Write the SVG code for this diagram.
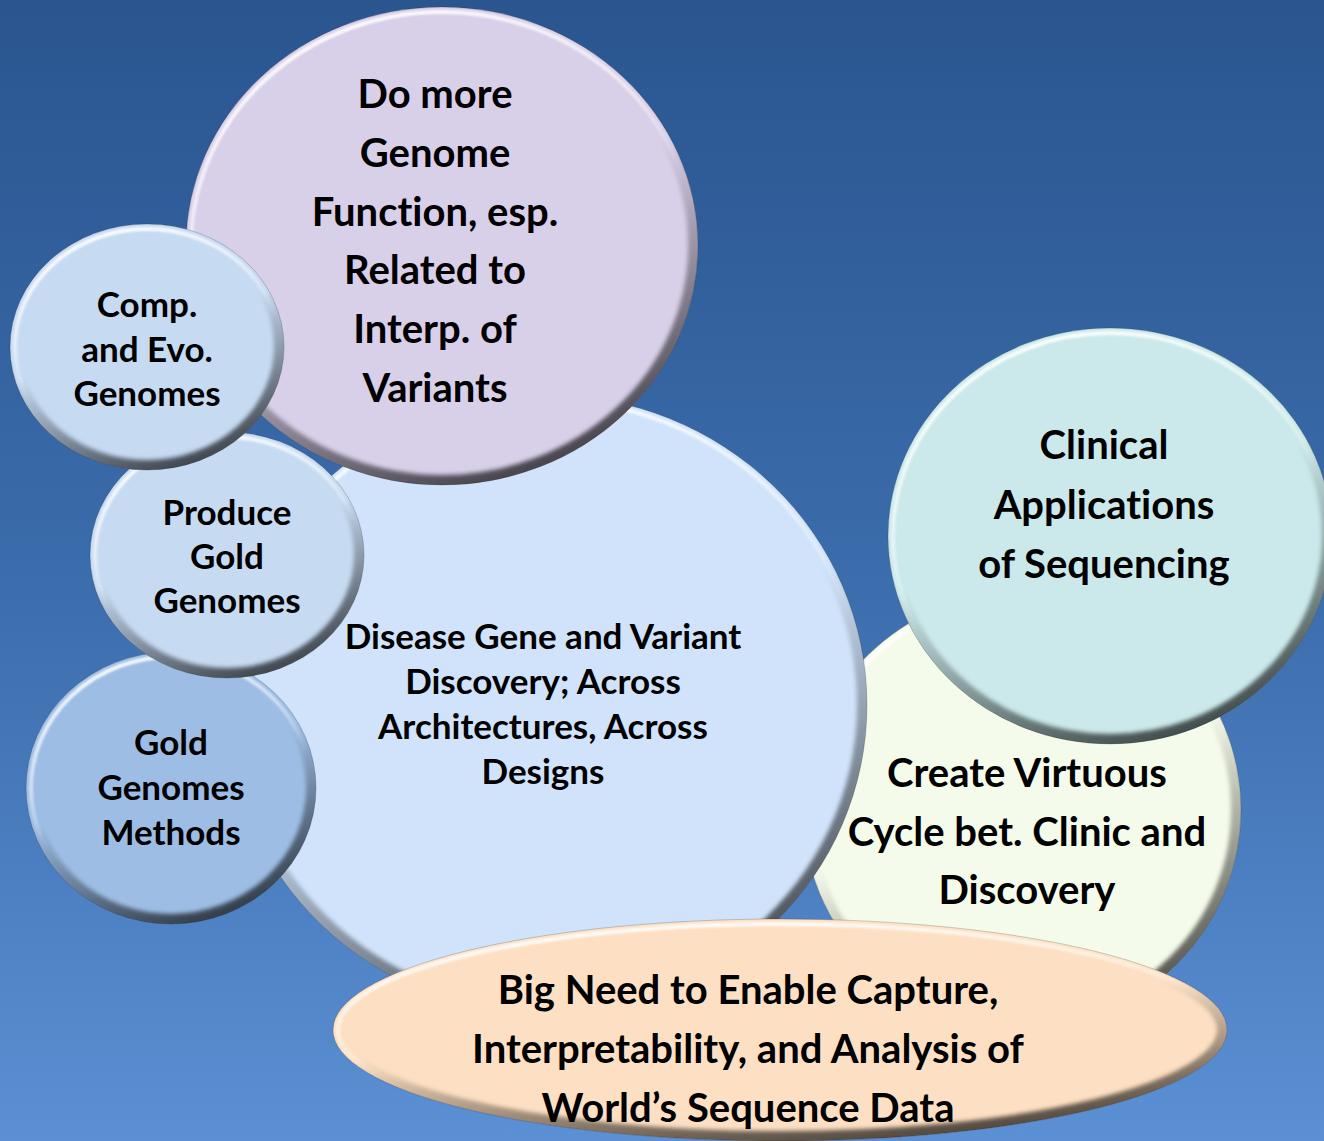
<svg xmlns="http://www.w3.org/2000/svg" width="1324" height="1141" viewBox="0 0 1324 1141">
  <defs>
    <linearGradient id="bg" x1="0" y1="0" x2="0" y2="1">
      <stop offset="0" stop-color="#2a558f"/>
      <stop offset="0.5" stop-color="#3b6cab"/>
      <stop offset="1" stop-color="#5b90d4"/>
    </linearGradient>
    <!-- bevel: light rim top-left, dark rim bottom-right -->
    <linearGradient id="gHi" x1="0.3" y1="0" x2="0.7" y2="1">
      <stop offset="0" stop-color="#fff" stop-opacity="0.95"/>
      <stop offset="0.35" stop-color="#fff" stop-opacity="0.5"/>
      <stop offset="0.55" stop-color="#fff" stop-opacity="0"/>
    </linearGradient>
    <linearGradient id="gShade" x1="0.3" y1="0" x2="0.7" y2="1">
      <stop offset="0.45" stop-color="#000" stop-opacity="0"/>
      <stop offset="0.8" stop-color="#000" stop-opacity="0.45"/>
      <stop offset="1" stop-color="#000" stop-opacity="0.7"/>
    </linearGradient>
    <filter id="soft" x="-10%" y="-10%" width="120%" height="120%">
      <feGaussianBlur stdDeviation="2"/>
    </filter>
    <filter id="softer" x="-10%" y="-10%" width="120%" height="120%">
      <feGaussianBlur stdDeviation="0.8"/>
    </filter>
    <clipPath id="c-create"><ellipse cx="1022" cy="810" rx="219" ry="218"/></clipPath>
    <clipPath id="c-clinical"><ellipse cx="1110" cy="536" rx="222" ry="208"/></clipPath>
    <clipPath id="c-disease"><ellipse cx="547" cy="705" rx="320" ry="310"/></clipPath>
    <clipPath id="c-function"><ellipse cx="442" cy="246" rx="256" ry="239"/></clipPath>
    <clipPath id="c-methods"><ellipse cx="171" cy="788" rx="145" ry="136"/></clipPath>
    <clipPath id="c-produce"><ellipse cx="227" cy="555" rx="137" ry="123"/></clipPath>
    <clipPath id="c-comp"><ellipse cx="147" cy="347" rx="137" ry="123"/></clipPath>
    <clipPath id="c-need"><ellipse cx="780" cy="1030" rx="447" ry="111"/></clipPath>
  </defs>
  <style>
    .shade { fill: none; stroke: url(#gShade); stroke-width: 14; filter: url(#soft); }
    .hi { fill: none; stroke: url(#gHi); stroke-width: 4; filter: url(#softer); }
    .rim { fill: none; stroke: #000; stroke-opacity: 0.18; stroke-width: 1; }
    .t { font-family: Lato, "Liberation Sans", sans-serif; font-weight: 700; fill: #000; text-anchor: middle; font-variant-ligatures: none; }
    .lg { font-size: 40px; }
    .sm { font-size: 35px; }
  </style>

  <rect width="1324" height="1141" fill="url(#bg)"/>

  <g id="n-create">
    <ellipse cx="1022" cy="810" rx="219" ry="218" fill="#f5fbea"/>
    <g clip-path="url(#c-create)">
      <ellipse class="shade" cx="1022" cy="810" rx="216" ry="215"/>
      <ellipse class="hi" cx="1022" cy="810" rx="214" ry="213"/>
    </g>
    <ellipse class="rim" cx="1022" cy="810" rx="219" ry="218"/>
    <text class="t lg" x="1027" y="787">Create Virtuous</text>
    <text class="t lg" x="1027" y="846">Cycle bet. Clinic and</text>
    <text class="t lg" x="1027" y="904">Discovery</text>
  </g>

  <g id="n-clinical">
    <ellipse cx="1110" cy="536" rx="222" ry="208" fill="#cbe9ea"/>
    <g clip-path="url(#c-clinical)">
      <ellipse class="shade" cx="1110" cy="536" rx="219" ry="205"/>
      <ellipse class="hi" cx="1110" cy="536" rx="217" ry="203"/>
    </g>
    <ellipse class="rim" cx="1110" cy="536" rx="222" ry="208"/>
    <text class="t lg" x="1104" y="459">Clinical</text>
    <text class="t lg" x="1104" y="519">Applications</text>
    <text class="t lg" x="1104" y="578">of Sequencing</text>
  </g>

  <g id="n-disease">
    <ellipse cx="547" cy="705" rx="320" ry="310" fill="#d0e3fa"/>
    <g clip-path="url(#c-disease)">
      <ellipse class="shade" cx="547" cy="705" rx="317" ry="307"/>
      <ellipse class="hi" cx="547" cy="705" rx="315" ry="305"/>
    </g>
    <ellipse class="rim" cx="547" cy="705" rx="320" ry="310"/>
    <text class="t sm" x="543" y="649">Disease Gene and Variant</text>
    <text class="t sm" x="543" y="694">Discovery; Across</text>
    <text class="t sm" x="543" y="739">Architectures, Across</text>
    <text class="t sm" x="543" y="784">Designs</text>
  </g>

  <g id="n-function">
    <ellipse cx="442" cy="246" rx="256" ry="239" fill="#d8cfe8"/>
    <g clip-path="url(#c-function)">
      <ellipse class="shade" cx="442" cy="246" rx="253" ry="236"/>
      <ellipse class="hi" cx="442" cy="246" rx="251" ry="234"/>
    </g>
    <ellipse class="rim" cx="442" cy="246" rx="256" ry="239"/>
    <text class="t lg" x="435" y="108">Do more</text>
    <text class="t lg" x="435" y="167">Genome</text>
    <text class="t lg" x="435" y="226">Function, esp.</text>
    <text class="t lg" x="435" y="284">Related to</text>
    <text class="t lg" x="435" y="343">Interp. of</text>
    <text class="t lg" x="435" y="402">Variants</text>
  </g>

  <g id="n-methods">
    <ellipse cx="171" cy="788" rx="145" ry="136" fill="#9dbde4"/>
    <g clip-path="url(#c-methods)">
      <ellipse class="shade" cx="171" cy="788" rx="142" ry="133"/>
      <ellipse class="hi" cx="171" cy="788" rx="140" ry="131"/>
    </g>
    <ellipse class="rim" cx="171" cy="788" rx="145" ry="136"/>
    <text class="t sm" x="171" y="755">Gold</text>
    <text class="t sm" x="171" y="800">Genomes</text>
    <text class="t sm" x="171" y="845">Methods</text>
  </g>

  <g id="n-produce">
    <ellipse cx="227" cy="555" rx="137" ry="123" fill="#c6daf1"/>
    <g clip-path="url(#c-produce)">
      <ellipse class="shade" cx="227" cy="555" rx="134" ry="120"/>
      <ellipse class="hi" cx="227" cy="555" rx="132" ry="118"/>
    </g>
    <ellipse class="rim" cx="227" cy="555" rx="137" ry="123"/>
    <text class="t sm" x="227" y="525">Produce</text>
    <text class="t sm" x="227" y="569">Gold</text>
    <text class="t sm" x="227" y="613">Genomes</text>
  </g>

  <g id="n-comp">
    <ellipse cx="147" cy="347" rx="137" ry="123" fill="#c6daf2"/>
    <g clip-path="url(#c-comp)">
      <ellipse class="shade" cx="147" cy="347" rx="134" ry="120"/>
      <ellipse class="hi" cx="147" cy="347" rx="132" ry="118"/>
    </g>
    <ellipse class="rim" cx="147" cy="347" rx="137" ry="123"/>
    <text class="t sm" x="147" y="317">Comp.</text>
    <text class="t sm" x="147" y="362">and Evo.</text>
    <text class="t sm" x="147" y="406">Genomes</text>
  </g>

  <g id="n-need">
    <ellipse cx="780" cy="1030" rx="447" ry="111" fill="#fde0c3"/>
    <g clip-path="url(#c-need)">
      <ellipse class="shade" cx="780" cy="1030" rx="444" ry="108"/>
      <ellipse class="hi" cx="780" cy="1030" rx="442" ry="106"/>
    </g>
    <ellipse class="rim" cx="780" cy="1030" rx="447" ry="111"/>
    <text class="t lg" x="748" y="1004">Big Need to Enable Capture,</text>
    <text class="t lg" x="748" y="1063">Interpretability, and Analysis of</text>
    <text class="t lg" x="748" y="1122">World’s Sequence Data</text>
  </g>

  <g id="connectors"/>
</svg>
